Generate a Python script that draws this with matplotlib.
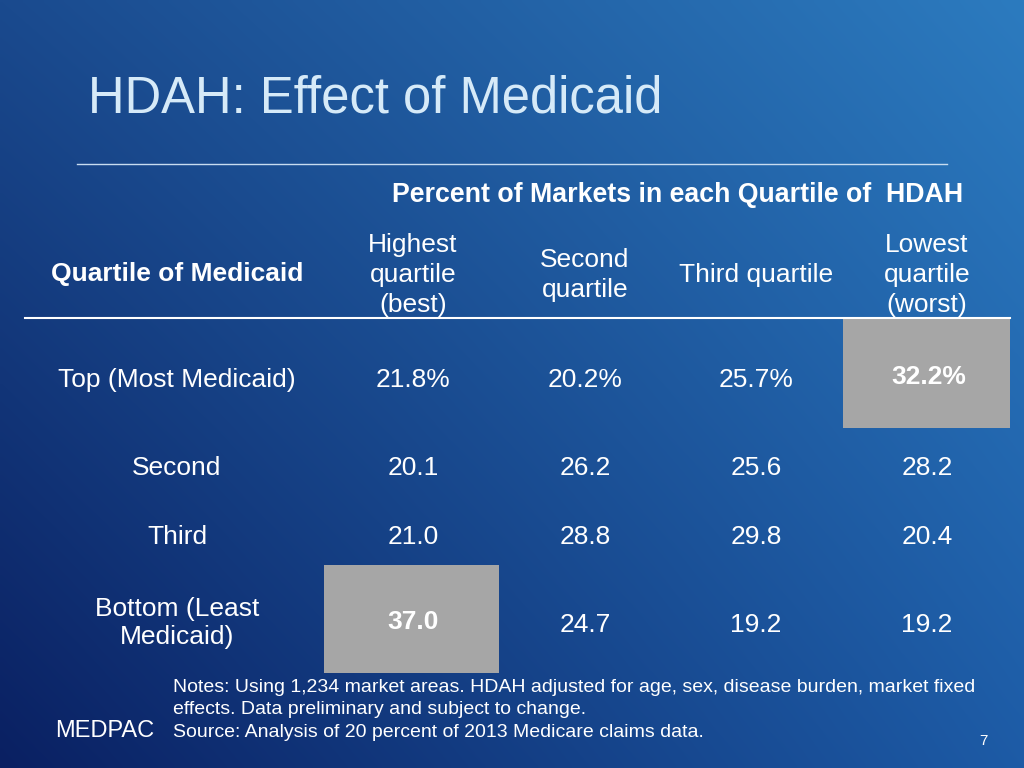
import numpy as np
import matplotlib
matplotlib.use("Agg")
import matplotlib.pyplot as plt
from matplotlib.patches import Rectangle

plt.rcParams['font.family'] = ['Liberation Sans', 'DejaVu Sans']

# datos de la tabla
title = "HDAH: Effect of Medicaid"
subtitle = "Percent of Markets in each Quartile of  HDAH"
row_header = "Quartile of Medicaid"
col_labels = ["Highest\nquartile\n(best)", "Second\nquartile", "Third quartile", "Lowest\nquartile\n(worst)"]
row_labels = ["Top (Most Medicaid)", "Second", "Third", "Bottom (Least\nMedicaid)"]
values = [[21.8, 20.2, 25.7, 32.2],
          [20.1, 26.2, 25.6, 28.2],
          [21.0, 28.8, 29.8, 20.4],
          [37.0, 24.7, 19.2, 19.2]]
highlight = [(0, 3), (3, 0)]
notes = ("Notes: Using 1,234 market areas. HDAH adjusted for age, sex, disease burden, market fixed\n"
         "effects. Data preliminary and subject to change.\n"
         "Source: Analysis of 20 percent of 2013 Medicare claims data.")
page = "7"

W, H = 1024, 768
fig = plt.figure(figsize=(W / 100, H / 100), dpi=100)
ax = fig.add_axes([0, 0, 1, 1])
ax.set_xlim(0, W)
ax.set_ylim(H, 0)
ax.axis('off')

# fondo degradado
def hex2rgb(h):
    h = h.lstrip('#')
    return np.array([int(h[i:i + 2], 16) for i in (0, 2, 4)]) / 255.0

tl, tr = hex2rgb('#1a4a8e'), hex2rgb('#2c7bbf')
bl, br = hex2rgb('#0a2062'), hex2rgb('#1d5ba6')
u = np.linspace(0, 1, 256)[None, :, None]
v = np.linspace(0, 1, 192)[:, None, None]
grad = (1 - v) * ((1 - u) * tl + u * tr) + v * ((1 - u) * bl + u * br)
ax.imshow(grad, extent=(0, W, H, 0), aspect='auto', interpolation='bilinear', zorder=0)

# titulo
ax.text(88, 99, title, fontsize=36.5, color='#d6eaf8', va='center', ha='left')
ax.plot([77, 947], [164, 164], color='#c8dcf0', lw=1)

ax.text(678, 195, subtitle, fontsize=19.3, fontweight='bold', color='white', ha='center', va='center')

col_x = [413, 585, 756, 927]
row_y = [380, 468, 537, 625]

for j, lab in enumerate(col_labels):
    ax.text(col_x[j], 275, lab, fontsize=19, color='white', ha='center', va='center',
            linespacing=1.3, multialignment='center')
ax.text(177, 274, row_header, fontsize=19, fontweight='bold', color='white', ha='center', va='center')
ax.plot([25, 1010], [318, 318], color='white', lw=1.5, zorder=3)

# celdas resaltadas
rects = {(0, 3): (843, 318, 167, 110), (3, 0): (324, 565, 175, 108)}
for (i, j) in highlight:
    x0, y0, w, h = rects[(i, j)]
    ax.add_patch(Rectangle((x0, y0), w, h, facecolor='#a6a6a6', edgecolor='none', zorder=2))

for i, lab in enumerate(row_labels):
    ax.text(177, row_y[i] - (2 if i == 3 else 0), lab, fontsize=19, color='white',
            ha='center', va='center', linespacing=1.25)
    for j, val in enumerate(values[i]):
        s = f"{val:.1f}%" if i == 0 else f"{val:.1f}"
        bold = (i, j) in highlight
        ax.text(col_x[j] + (2 if bold and j == 3 else 0), row_y[i] - (3 if bold else 0), s,
                fontsize=19, color='white', ha='center', va='center',
                fontweight='bold' if bold else 'normal', zorder=4)

ax.text(173, 710, notes, fontsize=14, color='white', ha='left', va='center', linespacing=1.45)
ax.text(55, 731, "MEDPAC", fontsize=17, color='white', ha='left', va='center')
ax.text(983, 741, page, fontsize=11, color='white', ha='center', va='center')

fig.savefig('out.png', dpi=100)
